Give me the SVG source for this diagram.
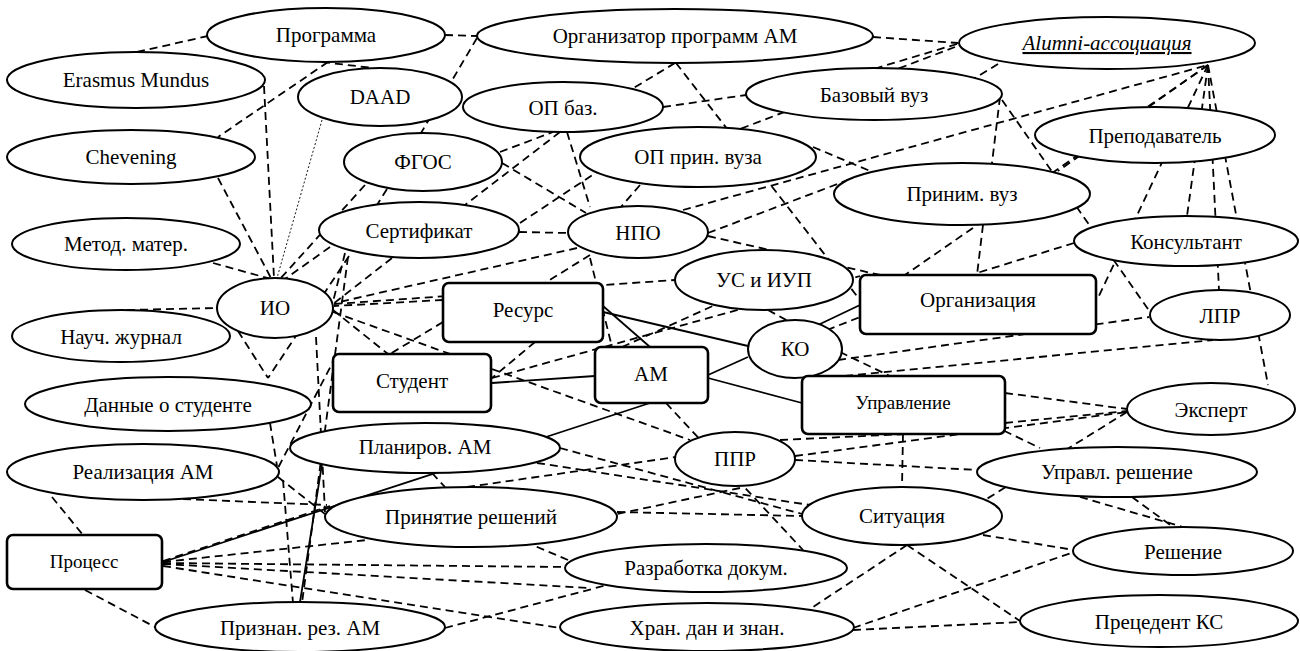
<svg xmlns="http://www.w3.org/2000/svg" width="1300" height="651" viewBox="0 0 1300 651">
<style>
.e{fill:#fff;stroke:#000;stroke-width:2}
.r{fill:#fff;stroke:#000;stroke-width:2.6}
.d{stroke:#000;stroke-width:1.8;stroke-dasharray:8 5;fill:none}
.s{stroke:#000;stroke-width:1.8;fill:none}
.o{stroke:#000;stroke-width:0.9;stroke-dasharray:2 2;fill:none}
text{font-family:"Times New Roman","Liberation Serif",Tinos,"DejaVu Serif",serif;font-size:21px;text-anchor:middle;fill:#000}
.sm{font-size:19px}
</style>
<rect width="1300" height="651" fill="#fff"/>
<g id="connectors">
<line class="d" x1="137" y1="52" x2="208" y2="36"/>
<line class="d" x1="445" y1="35" x2="477" y2="36"/>
<line class="d" x1="328" y1="62" x2="218" y2="137"/>
<line class="d" x1="322" y1="62" x2="373" y2="68"/>
<line class="d" x1="477" y1="38" x2="421" y2="133"/>
<line class="d" x1="873" y1="37" x2="958" y2="43"/>
<line class="d" x1="675" y1="63" x2="632" y2="89"/>
<line class="d" x1="676" y1="63" x2="860" y2="300"/>
<line class="d" x1="264" y1="86" x2="274" y2="278"/>
<line class="d" x1="218" y1="178" x2="271" y2="278"/>
<line class="o" x1="322" y1="120" x2="277" y2="278"/>
<line class="d" x1="213" y1="263" x2="271" y2="279"/>
<line class="d" x1="127" y1="310" x2="217" y2="308"/>
<line class="d" x1="238" y1="331" x2="268" y2="378"/>
<line class="d" x1="349" y1="256" x2="268" y2="378"/>
<line class="d" x1="316" y1="337" x2="325" y2="512"/>
<line class="d" x1="500" y1="152" x2="553" y2="132"/>
<line class="d" x1="502" y1="163" x2="586" y2="213"/>
<line class="d" x1="567" y1="132" x2="590" y2="207"/>
<line class="d" x1="663" y1="107" x2="746" y2="95"/>
<line class="d" x1="560" y1="132" x2="465" y2="205"/>
<line class="d" x1="365" y1="185" x2="280" y2="279"/>
<line class="d" x1="387" y1="189" x2="377" y2="205"/>
<line class="d" x1="519" y1="232" x2="568" y2="233"/>
<line class="d" x1="345" y1="253" x2="333" y2="302"/>
<line class="d" x1="392" y1="258" x2="333" y2="304"/>
<line class="d" x1="330" y1="247" x2="285" y2="279"/>
<line class="d" x1="577" y1="248" x2="335" y2="303"/>
<line class="d" x1="443" y1="300" x2="334" y2="306"/>
<line class="d" x1="334" y1="304" x2="675" y2="280"/>
<line class="d" x1="333" y1="310" x2="388" y2="354"/>
<line class="d" x1="333" y1="312" x2="690" y2="440"/>
<line class="d" x1="443" y1="322" x2="390" y2="354"/>
<line class="d" x1="535" y1="342" x2="492" y2="378"/>
<line class="d" x1="348" y1="257" x2="302" y2="603"/>
<line class="d" x1="590" y1="258" x2="612" y2="347"/>
<line class="d" x1="590" y1="255" x2="545" y2="283"/>
<line class="d" x1="520" y1="223" x2="600" y2="170"/>
<line class="d" x1="683" y1="210" x2="1208" y2="65"/>
<line class="d" x1="1208" y1="65" x2="1097" y2="300"/>
<line class="d" x1="1208" y1="65" x2="1187" y2="216"/>
<line class="d" x1="1208" y1="65" x2="1219" y2="290"/>
<line class="d" x1="1208" y1="65" x2="1268" y2="385"/>
<line class="d" x1="1208" y1="65" x2="905" y2="275"/>
<line class="d" x1="1208" y1="65" x2="1058" y2="171"/>
<line class="d" x1="998" y1="64" x2="975" y2="78"/>
<line class="d" x1="957" y1="44" x2="877" y2="68"/>
<line class="d" x1="955" y1="47" x2="740" y2="129"/>
<line class="d" x1="1000" y1="97" x2="992" y2="163"/>
<line class="d" x1="1002" y1="100" x2="1150" y2="312"/>
<line class="d" x1="813" y1="147" x2="870" y2="171"/>
<line class="d" x1="640" y1="185" x2="620" y2="208"/>
<line class="d" x1="708" y1="233" x2="848" y2="180"/>
<line class="d" x1="708" y1="236" x2="880" y2="275"/>
<line class="d" x1="983" y1="225" x2="977" y2="275"/>
<line class="d" x1="1074" y1="243" x2="977" y2="273"/>
<line class="d" x1="838" y1="360" x2="1149" y2="317"/>
<line class="d" x1="845" y1="376" x2="1213" y2="340"/>
<line class="d" x1="1005" y1="393" x2="1127" y2="409"/>
<line class="d" x1="1005" y1="423" x2="1127" y2="411"/>
<line class="d" x1="840" y1="352" x2="1040" y2="448"/>
<line class="d" x1="768" y1="310" x2="788" y2="321"/>
<line class="d" x1="827" y1="330" x2="860" y2="317"/>
<line class="d" x1="492" y1="378" x2="860" y2="276"/>
<line class="d" x1="622" y1="347" x2="715" y2="305"/>
<line class="d" x1="52" y1="497" x2="83" y2="535"/>
<line class="d" x1="85" y1="590" x2="155" y2="627"/>
<line class="d" x1="157" y1="498" x2="327" y2="505"/>
<line class="d" x1="270" y1="423" x2="277" y2="466"/>
<line class="d" x1="336" y1="356" x2="278" y2="468"/>
<line class="d" x1="278" y1="477" x2="325" y2="514"/>
<line class="d" x1="283" y1="480" x2="293" y2="603"/>
<line class="d" x1="163" y1="561" x2="330" y2="506"/>
<line class="d" x1="163" y1="562" x2="367" y2="540"/>
<line class="d" x1="163" y1="563" x2="565" y2="567"/>
<line class="d" x1="163" y1="564" x2="590" y2="588"/>
<line class="d" x1="163" y1="566" x2="560" y2="628"/>
<line class="d" x1="560" y1="448" x2="802" y2="514"/>
<line class="d" x1="537" y1="463" x2="810" y2="505"/>
<line class="d" x1="432" y1="473" x2="445" y2="487"/>
<line class="d" x1="467" y1="487" x2="676" y2="457"/>
<line class="d" x1="740" y1="488" x2="617" y2="514"/>
<line class="d" x1="617" y1="512" x2="802" y2="516"/>
<line class="d" x1="780" y1="440" x2="907" y2="434"/>
<line class="d" x1="795" y1="456" x2="1127" y2="412"/>
<line class="d" x1="795" y1="460" x2="977" y2="470"/>
<line class="d" x1="903" y1="434" x2="902" y2="487"/>
<line class="d" x1="1127" y1="412" x2="985" y2="500"/>
<line class="d" x1="1080" y1="497" x2="1183" y2="527"/>
<line class="d" x1="1132" y1="497" x2="1173" y2="527"/>
<line class="d" x1="983" y1="535" x2="1074" y2="550"/>
<line class="d" x1="907" y1="545" x2="813" y2="607"/>
<line class="d" x1="907" y1="545" x2="1020" y2="621"/>
<line class="d" x1="853" y1="628" x2="1074" y2="552"/>
<line class="d" x1="853" y1="630" x2="1020" y2="622"/>
<line class="d" x1="666" y1="403" x2="803" y2="550"/>
<line class="d" x1="445" y1="628" x2="607" y2="585"/>
<line class="d" x1="568" y1="560" x2="535" y2="546"/>
<line class="s" x1="603" y1="312" x2="748" y2="346"/>
<line class="s" x1="603" y1="306" x2="650" y2="347"/>
<line class="s" x1="595" y1="376" x2="492" y2="383"/>
<line class="s" x1="748" y1="357" x2="708" y2="375"/>
<line class="s" x1="708" y1="378" x2="802" y2="403"/>
<line class="s" x1="818" y1="325" x2="860" y2="305"/>
<line class="s" x1="650" y1="403" x2="163" y2="562"/>
<line class="s" x1="322" y1="464" x2="300" y2="602"/>
</g>
<g id="n-programma"><ellipse class="e" cx="326" cy="35" rx="119" ry="27"/><text x="326" y="42">Программа</text></g>
<g id="n-organizator"><ellipse class="e" cx="675" cy="36" rx="198" ry="27"/><text x="675" y="43">Организатор программ АМ</text></g>
<g id="n-alumni"><ellipse class="e" cx="1107" cy="43" rx="148" ry="26"/><text x="1107" y="50" font-style="italic" text-decoration="underline">Alumni-ассоциация</text></g>
<g id="n-erasmus"><ellipse class="e" cx="136" cy="80" rx="129" ry="28"/><text x="136" y="87">Erasmus Mundus</text></g>
<g id="n-daad"><ellipse class="e" cx="380" cy="97" rx="82" ry="29"/><text x="380" y="104">DAAD</text></g>
<g id="n-opbaz"><ellipse class="e" cx="563" cy="107" rx="100" ry="25"/><text x="563" y="115">ОП баз.</text></g>
<g id="n-bazvuz"><ellipse class="e" cx="874" cy="94" rx="128" ry="26"/><text x="874" y="102">Базовый вуз</text></g>
<g id="n-chevening"><ellipse class="e" cx="131" cy="157" rx="124" ry="27"/><text x="131" y="164">Chevening</text></g>
<g id="n-fgos"><ellipse class="e" cx="423" cy="162" rx="79" ry="29"/><text x="423" y="169">ФГОС</text></g>
<g id="n-opprin"><ellipse class="e" cx="698" cy="157" rx="118" ry="30"/><text x="698" y="164">ОП прин. вуза</text></g>
<g id="n-prepod"><ellipse class="e" cx="1155" cy="135" rx="120" ry="28"/><text x="1155" y="143">Преподаватель</text></g>
<g id="n-prinvuz"><ellipse class="e" cx="962" cy="194" rx="128" ry="31"/><text x="962" y="201">Приним. вуз</text></g>
<g id="n-metod"><ellipse class="e" cx="126" cy="244" rx="114" ry="26"/><text x="126" y="251">Метод. матер.</text></g>
<g id="n-sert"><ellipse class="e" cx="419" cy="230" rx="100" ry="28"/><text x="419" y="238">Сертификат</text></g>
<g id="n-npo"><ellipse class="e" cx="638" cy="232" rx="70" ry="26"/><text x="638" y="240">НПО</text></g>
<g id="n-konsult"><ellipse class="e" cx="1186" cy="241" rx="112" ry="25"/><text x="1186" y="249">Консультант</text></g>
<g id="n-io"><ellipse class="e" cx="275" cy="308" rx="58" ry="30"/><text x="275" y="315">ИО</text></g>
<g id="n-usiup"><ellipse class="e" cx="764" cy="280" rx="89" ry="30"/><text x="764" y="287">УС и ИУП</text></g>
<g id="n-lpr"><ellipse class="e" cx="1220" cy="315" rx="70" ry="25"/><text x="1220" y="323">ЛПР</text></g>
<g id="n-nauch"><ellipse class="e" cx="121" cy="336" rx="109" ry="26"/><text x="121" y="344">Науч. журнал</text></g>
<g id="n-ko"><ellipse class="e" cx="795" cy="349" rx="47" ry="29"/><text x="795" y="356">КО</text></g>
<g id="n-dannye"><ellipse class="e" cx="168" cy="404" rx="143" ry="27"/><text x="168" y="412">Данные о студенте</text></g>
<g id="n-ekspert"><ellipse class="e" cx="1211" cy="409" rx="84" ry="26"/><text x="1211" y="417">Эксперт</text></g>
<g id="n-planir"><ellipse class="e" cx="425" cy="448" rx="135" ry="25"/><text x="425" y="454">Планиров. АМ</text></g>
<g id="n-ppr"><ellipse class="e" cx="735" cy="459" rx="60" ry="27"/><text x="735" y="466">ППР</text></g>
<g id="n-upravresh"><ellipse class="e" cx="1117" cy="472" rx="140" ry="25"/><text x="1117" y="479">Управл. решение</text></g>
<g id="n-realiz"><ellipse class="e" cx="143" cy="472" rx="136" ry="28"/><text x="143" y="479">Реализация АМ</text></g>
<g id="n-prinyatie"><ellipse class="e" cx="471" cy="517" rx="146" ry="30"/><text x="471" y="524">Принятие решений</text></g>
<g id="n-situac"><ellipse class="e" cx="902" cy="516" rx="100" ry="29"/><text x="902" y="523">Ситуация</text></g>
<g id="n-reshenie"><ellipse class="e" cx="1183" cy="551" rx="110" ry="24"/><text x="1183" y="559">Решение</text></g>
<g id="n-razrab"><ellipse class="e" cx="706" cy="568" rx="141" ry="24"/><text x="706" y="575">Разработка докум.</text></g>
<g id="n-priznan"><ellipse class="e" cx="300" cy="627" rx="145" ry="25"/><text x="300" y="635">Признан. рез. АМ</text></g>
<g id="n-hran"><ellipse class="e" cx="707" cy="627" rx="147" ry="24"/><text x="707" y="635">Хран. дан и знан.</text></g>
<g id="n-precedent"><ellipse class="e" cx="1159" cy="621" rx="139" ry="26"/><text x="1159" y="629">Прецедент КС</text></g>
<g id="n-resurs"><rect class="r" x="443" y="283" width="160" height="59" rx="6"/><text x="523" y="317">Ресурс</text></g>
<g id="n-organiz"><rect class="r" x="860" y="275" width="236" height="59" rx="6"/><text x="978" y="307">Организация</text></g>
<g id="n-student"><rect class="r" x="333" y="354" width="158" height="58" rx="6"/><text x="412" y="388">Студент</text></g>
<g id="n-am"><rect class="r" x="595" y="347" width="113" height="56" rx="6"/><text x="651" y="381">АМ</text></g>
<g id="n-upravl"><rect class="r" x="802" y="376" width="203" height="58" rx="6"/><text class="sm" x="903" y="409">Управление</text></g>
<g id="n-process"><rect class="r" x="7" y="535" width="155" height="54" rx="6"/><text class="sm" x="84" y="568">Процесс</text></g>
</svg>
